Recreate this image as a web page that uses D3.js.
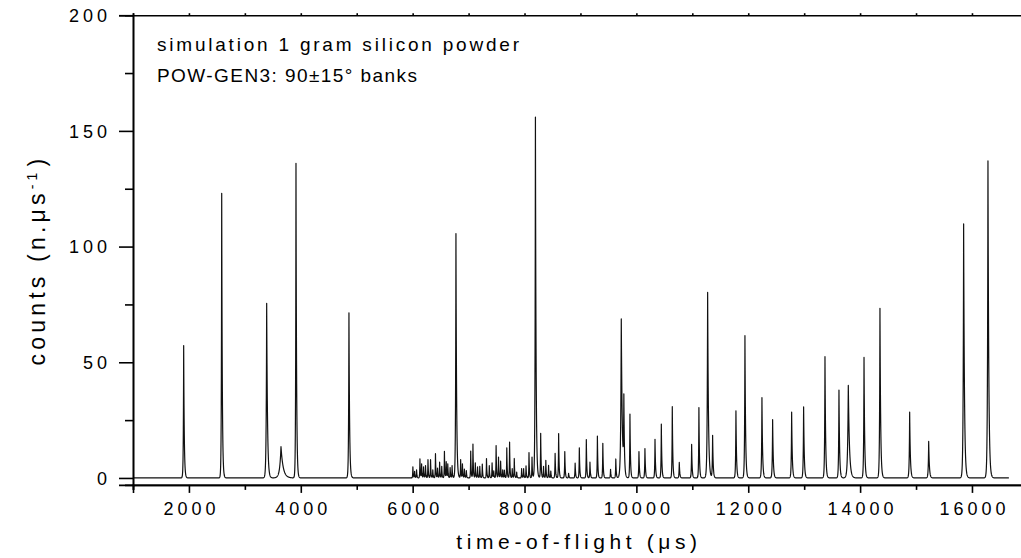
<!DOCTYPE html>
<html>
<head>
<meta charset="utf-8">
<script src="https://cdn.jsdelivr.net/npm/d3@7"></script>
<style>
  html, body { margin: 0; padding: 0; background: #fff; }
  svg { display: block; font-family: "Liberation Sans", Arial, sans-serif; }
</style>
</head>
<body>
<svg id="chart" width="1021" height="558"></svg>
<script>
// Simulated time-of-flight diffraction pattern, 1 g silicon powder (POW-GEN3, 90±15° banks).
// Each reflection: centre (µs), peak height (counts per µs) and decay width (µs).
const peakTof = [
  1906, 2586, 3390, 3646, 3914, 4861,
  6004, 6035, 6070, 6130, 6160, 6195, 6230, 6274, 6320, 6360, 6408, 6445, 6482, 6520,
  6568, 6600, 6628, 6670, 6705, 6774, 6858, 6890, 6925, 6960, 7038, 7078, 7120, 7160,
  7200, 7245, 7320, 7370, 7420, 7450, 7492, 7535, 7573, 7610, 7640, 7683, 7733, 7780,
  7817, 7860, 7948, 7984, 8027, 8080, 8134, 8195, 8289, 8340, 8381, 8430, 8470, 8547,
  8610, 8720, 8788, 8905, 8980, 9105, 9170, 9303, 9400, 9538, 9632, 9730, 9776, 9885,
  10046, 10153, 10333, 10446, 10642, 10767, 10988, 11118, 11274, 11363, 11780, 11941,
  12245, 12436, 12776, 12990, 13372, 13622, 13789, 14070, 14355, 14886, 15226, 15851, 16286
];
const peakHeight = [
  57.2, 123, 75.5, 13.5, 136, 71.4,
  4.8, 2.8, 3.5, 8.3, 6.0, 4.8, 5.3, 7.9, 7.9, 3.5, 10.5, 4.2, 6.8, 5.0,
  11.5, 6.9, 6.0, 4.5, 5.3, 105.6, 7.9, 6.0, 3.8, 3.2, 11.6, 14.6, 6.5, 4.8,
  5.0, 6.0, 8.4, 5.3, 6.5, 3.0, 14.0, 9.0, 7.2, 3.5, 3.3, 13.0, 15.5, 4.0,
  8.4, 2.5, 4.0, 4.0, 5.2, 11.0, 9.0, 156, 19.3, 5.0, 7.6, 5.4, 3.0, 10.6,
  19.2, 11.4, 2.0, 6.4, 13.0, 16.6, 6.8, 18.1, 15.0, 3.7, 8.2, 68.7, 31.8, 27.6,
  11.4, 12.7, 16.7, 23.3, 30.8, 6.7, 14.5, 30.4, 80.2, 18.3, 29.0, 61.5,
  34.7, 25.2, 28.5, 30.7, 52.4, 38.0, 40.0, 52.1, 73.3, 28.5, 15.8, 109.8, 137
];
const peakWidth = [
  10, 10, 14, 38, 10, 11,
  7, 7, 7, 7, 7, 7, 7, 7, 7, 7, 7, 7, 7, 7,
  7, 7, 7, 7, 7, 11, 7, 7, 7, 7, 7, 7, 7, 7,
  7, 7, 7, 7, 7, 7, 7, 7, 7, 7, 7, 7, 7, 7,
  7, 7, 7, 7, 7, 7, 7, 11, 8, 7, 7, 7, 7, 8,
  8, 8, 7, 8, 8, 8, 8, 8, 8, 8, 8, 17, 10, 9,
  9, 9, 9, 9, 9, 9, 9, 9, 14, 10, 10, 11,
  11, 11, 11, 11, 11, 11, 20, 11, 12, 12, 12, 14, 14
];

const tofRange = [1000, 16660];
const xTicksMajor = [2000, 4000, 6000, 8000, 10000, 12000, 14000, 16000];
const xTicksMinor = [1000, 3000, 5000, 7000, 9000, 11000, 13000, 15000, 17000];
const yTicksMajor = [0, 50, 100, 150, 200];
const yTicksMinor = [25, 75, 125, 175];
const noteLines = ["simulation 1 gram silicon powder", "POW-GEN3: 90\u00b115\u00b0 banks"];

const svg = d3.select("#chart");
const x = d3.scaleLinear().domain([1000, 17000]).range([133, 1027.9]);
const y = d3.scaleLinear().domain([-3, 200]).range([484.9, 15.2]);

// back-to-back exponential peak shape: fast rise, slower decay
const peaks = peakTof.map((t, i) => ({ t, h: peakHeight[i], w: peakWidth[i] }));
function counts(t) {
  let s = 0;
  for (const p of peaks) {
    const d = t - p.t;
    if (d < -12 * p.w || d > 20 * p.w) continue;
    s += d < 0 ? p.h * Math.exp(d / (0.6 * p.w)) : p.h * Math.exp(-d / p.w);
  }
  return s;
}
const ts = d3.range(tofRange[0], tofRange[1] + 0.1, 2).concat(peakTof).sort((a, b) => a - b);
const profile = ts.map(t => [t, counts(t)]);

svg.append("path")
  .datum(profile)
  .attr("fill", "none")
  .attr("stroke", "#111")
  .attr("stroke-width", 1.2)
  .attr("stroke-linejoin", "round")
  .attr("d", d3.line().x(d => x(d[0])).y(d => y(d[1])));

// axes
const axisStroke = 1.6;
const bottom = svg.append("g").attr("transform", `translate(0,${y(-3)})`)
  .call(d3.axisBottom(x).tickValues(xTicksMajor).tickSize(8).tickPadding(9).tickFormat(d3.format("d")));
svg.append("g").attr("transform", `translate(0,${y(-3)})`)
  .call(d3.axisBottom(x).tickValues(xTicksMinor).tickSize(5).tickFormat(""));
const left = svg.append("g").attr("transform", `translate(${x(1000)},0)`)
  .call(d3.axisLeft(y).tickValues(yTicksMajor).tickSize(14).tickPadding(9).tickFormat(d3.format("d")));
svg.append("g").attr("transform", `translate(${x(1000)},0)`)
  .call(d3.axisLeft(y).tickValues(yTicksMinor).tickSize(8).tickFormat(""));
svg.append("g").attr("transform", `translate(0,${y(200)})`)
  .call(d3.axisTop(x).tickValues(xTicksMajor.concat(xTicksMinor)).tickSize(2).tickFormat(""));

svg.selectAll(".domain").attr("stroke", "#000").attr("stroke-width", axisStroke);
svg.selectAll(".tick line").attr("stroke", "#000").attr("stroke-width", axisStroke);
svg.selectAll(".tick text")
  .attr("fill", "#000")
  .style("font-family", '"Liberation Sans", Arial, sans-serif')
  .style("font-size", "18px")
  .style("letter-spacing", "4px");
bottom.selectAll(".tick text").attr("dx", "2px");
left.selectAll(".tick text").attr("dx", "1px").attr("dy", "0.34em");

// axis titles
svg.append("text")
  .attr("x", 579).attr("y", 549)
  .attr("text-anchor", "middle")
  .style("font-size", "21px")
  .style("letter-spacing", "4.6px")
  .text("time-of-flight (\u03bcs)");

const yt = svg.append("text")
  .attr("transform", "translate(45,260) rotate(-90)")
  .attr("text-anchor", "middle")
  .style("font-size", "23px")
  .style("letter-spacing", "4.2px");
yt.append("tspan").text("counts (n.\u03bcs");
yt.append("tspan").attr("dy", "-0.55em").style("font-size", "14px").text("-1");
yt.append("tspan").attr("dy", "0.35em").attr("dx", "2px").text(")");

// note
svg.append("g").selectAll("text").data(noteLines).join("text")
  .attr("x", 157).attr("y", (d, i) => 51 + i * 31)
  .attr("textLength", (d, i) => [362, 260][i])
  .attr("lengthAdjust", "spacing")
  .style("font-size", "19px")
  .text(d => d);
</script>
</body>
</html>
